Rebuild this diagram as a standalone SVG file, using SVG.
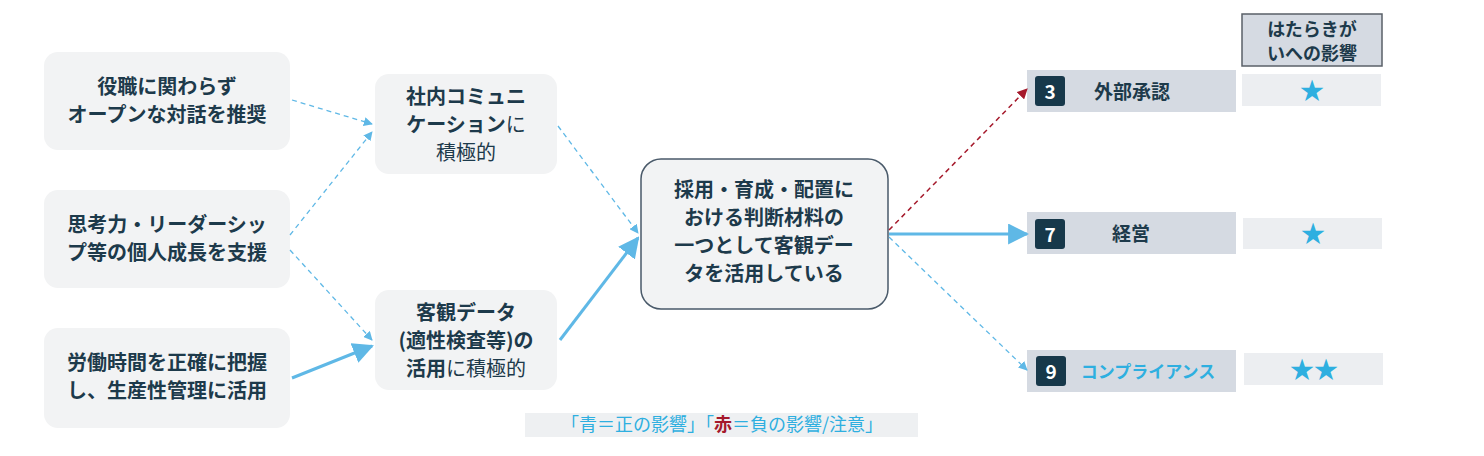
<svg xmlns="http://www.w3.org/2000/svg" width="1484" height="456" viewBox="0 0 1484 456">
<style>
text{font-family:"Noto Sans CJK JP","Noto Sans",sans-serif;font-weight:bold;fill:#1d3a4b;text-anchor:middle}
.n{font-weight:normal}
.box{fill:#f2f3f4}
.bar{fill:#d5dae2}
.sbar{fill:#eceef1}
.num{fill:#17384a}
.star{fill:#2eafe0;font-size:24px}
.blue{stroke:#5fb8e6;fill:none}
</style>
<defs>
<marker id="ab" viewBox="0 0 10 10" refX="9" refY="5" markerWidth="7" markerHeight="7" orient="auto"><path d="M0,0L10,5L0,10z" fill="#5fb8e6"/></marker>
<marker id="ar" viewBox="0 0 10 10" refX="9" refY="5" markerWidth="7" markerHeight="7" orient="auto"><path d="M0,0L10,5L0,10z" fill="#a5192b"/></marker>
</defs>
<g id="n1"><rect class="box" x="44" y="52" width="246" height="98" rx="14"/><text x="167" y="94" font-size="20">役職に関わらず</text><text x="167" y="122" font-size="20">オープンな対話を推奨</text></g>
<g id="n2"><rect class="box" x="44" y="190" width="246" height="98" rx="14"/><text x="167" y="232" font-size="20">思考力・リーダーシッ</text><text x="167" y="260" font-size="20">プ等の個人成長を支援</text></g>
<g id="n3"><rect class="box" x="44" y="328" width="246" height="100" rx="14"/><text x="167" y="370" font-size="20">労働時間を正確に把握</text><text x="167" y="398" font-size="20">し、生産性管理に活用</text></g>
<g id="m1"><rect class="box" x="375" y="74" width="182" height="100" rx="14"/><text x="466" y="104" font-size="20">社内コミュニ</text><text x="466" y="132" font-size="20">ケーション<tspan class="n">に</tspan></text><text x="466" y="160" font-size="20" class="n">積極的</text></g>
<g id="m2"><rect class="box" x="375" y="290" width="182" height="100" rx="14"/><text x="466" y="320" font-size="20">客観データ</text><text x="466" y="348" font-size="20">(適性検査等)の</text><text x="466" y="376" font-size="20">活用<tspan class="n">に積極的</tspan></text></g>
<g id="c"><rect x="641" y="159" width="247" height="150" rx="20" fill="#f2f3f4" stroke="#4a5a6a" stroke-width="1.5"/><text x="764" y="197" font-size="20">採用・育成・配置に</text><text x="764" y="225" font-size="20">おける判断材料の</text><text x="764" y="253" font-size="20">一つとして客観デー</text><text x="764" y="281" font-size="20">タを活用している</text></g>
<g id="hdr"><rect x="1242" y="14" width="140" height="52" fill="#d5dae2" stroke="#5a6068" stroke-width="1.5"/><text x="1312" y="36" font-size="18">はたらきが</text><text x="1312" y="60" font-size="18">いへの影響</text></g>
<g id="r3"><rect class="bar" x="1027" y="70" width="209" height="42"/><rect class="num" x="1035" y="76" width="30" height="30" rx="3"/><text x="1050" y="99" font-size="19" fill="#fff" style="fill:#fff">3</text><text x="1132" y="99" font-size="19">外部承認</text><rect class="sbar" x="1242" y="74" width="139" height="32"/><text class="star" x="1312" y="99">★</text></g>
<g id="r7"><rect class="bar" x="1027" y="212" width="209" height="42"/><rect class="num" x="1035" y="219" width="30" height="30" rx="3"/><text x="1050" y="242" font-size="19" style="fill:#fff">7</text><text x="1131" y="241" font-size="19">経営</text><rect class="sbar" x="1243" y="218" width="139" height="31"/><text class="star" x="1313" y="242">★</text></g>
<g id="r9"><rect class="bar" x="1027" y="350" width="209" height="42"/><rect class="num" x="1036" y="356" width="30" height="30" rx="3"/><text x="1051" y="379" font-size="19" style="fill:#fff">9</text><text x="1148" y="378" font-size="17" style="fill:#2eafe0">コンプライアンス</text><rect class="sbar" x="1244" y="353" width="139" height="32"/><text class="star" x="1314" y="378">★★</text></g>
<g id="legend"><rect x="525" y="413" width="393" height="24" fill="#eef0f2"/><text x="722" y="431" font-size="18" class="n" style="fill:#2eafe0">「青＝正の影響」「<tspan style="fill:#a5192b;font-weight:bold">赤</tspan>＝負の影響/注意」</text></g>
<g id="connectors">
<path class="blue" d="M292,100L372,124" stroke-width="1.3" stroke-dasharray="5,4" marker-end="url(#ab)"/>
<path class="blue" d="M290,235L372,132" stroke-width="1.3" stroke-dasharray="5,4" marker-end="url(#ab)"/>
<path class="blue" d="M290,250L372,340" stroke-width="1.3" stroke-dasharray="5,4" marker-end="url(#ab)"/>
<path class="blue" d="M292,378L372,346" stroke-width="3" marker-end="url(#ab)"/>
<path class="blue" d="M558,126L638,233" stroke-width="1.3" stroke-dasharray="5,4" marker-end="url(#ab)"/>
<path class="blue" d="M560,340L638,238" stroke-width="3" marker-end="url(#ab)"/>
<path d="M889,230L1027,89" stroke="#a5192b" stroke-width="1.5" stroke-dasharray="5,4" fill="none" marker-end="url(#ar)"/>
<path class="blue" d="M889,234L1027,234" stroke-width="3" marker-end="url(#ab)"/>
<path class="blue" d="M889,237L1027,370" stroke-width="1.3" stroke-dasharray="5,4" marker-end="url(#ab)"/>
</g>
</svg>
